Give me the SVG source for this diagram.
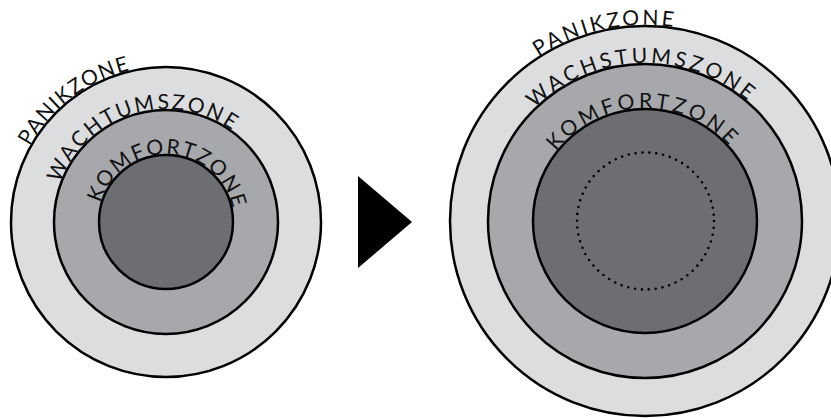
<svg xmlns="http://www.w3.org/2000/svg" xmlns:xlink="http://www.w3.org/1999/xlink" width="831" height="418" viewBox="0 0 831 418">
<style>
.z{stroke:#000;stroke-width:2.5}
.z1{fill:#dcdddf}
.z2{fill:#a7a8ab}
.z3{fill:#6d6e71}
.t{font-family:Lato,"Open Sans",sans-serif;font-size:21px;fill:#111}
</style>
<defs>
<path id="lp1" d="M10,222 A156,156 0 0 1 322,222"/>
<path id="lp2" d="M53,222 A113,113 0 0 1 279,222"/>
<path id="lp3" d="M98,222 A68,68 0 0 1 234,222"/>
<path id="rp1" d="M449,221 A196,196 0 0 1 841,221"/>
<path id="rp2" d="M487,221 A158,158 0 0 1 803,221"/>
<path id="rp3" d="M532,221 A113,113 0 0 1 758,221"/>
</defs>
<g id="left">
<circle class="z z1" cx="166" cy="222" r="155"/>
<circle class="z z2" cx="166" cy="222" r="112"/>
<circle class="z z3" cx="166" cy="222" r="67"/>
<text class="t"><textPath xlink:href="#lp1" startOffset="79" textLength="129" lengthAdjust="spacing">PANIKZONE</textPath></text>
<text class="t"><textPath xlink:href="#lp2" startOffset="39.5" textLength="208" lengthAdjust="spacing">WACHTUMSZONE</textPath></text>
<text class="t"><textPath xlink:href="#lp3" startOffset="19" textLength="180" lengthAdjust="spacing">KOMFORTZONE</textPath></text>
</g>
<g id="arrow">
<polygon points="358,176 412,222 358,268" fill="#000"/>
</g>
<g id="right">
<circle class="z z1" cx="645" cy="221" r="195"/>
<circle class="z z2" cx="645" cy="221" r="157"/>
<circle class="z z3" cx="645" cy="221" r="112"/>
<circle cx="645.5" cy="221" r="68.5" fill="none" stroke="#000" stroke-width="2.6" stroke-linecap="round" stroke-dasharray="0 6.94"/>
<text class="t"><textPath xlink:href="#rp1" startOffset="195" textLength="141" lengthAdjust="spacing">PANIKZONE</textPath></text>
<text class="t"><textPath xlink:href="#rp2" startOffset="125.5" textLength="234" lengthAdjust="spacing">WACHSTUMSZONE</textPath></text>
<text class="t"><textPath xlink:href="#rp3" startOffset="75" textLength="197" lengthAdjust="spacing">KOMFORTZONE</textPath></text>
</g>
</svg>
